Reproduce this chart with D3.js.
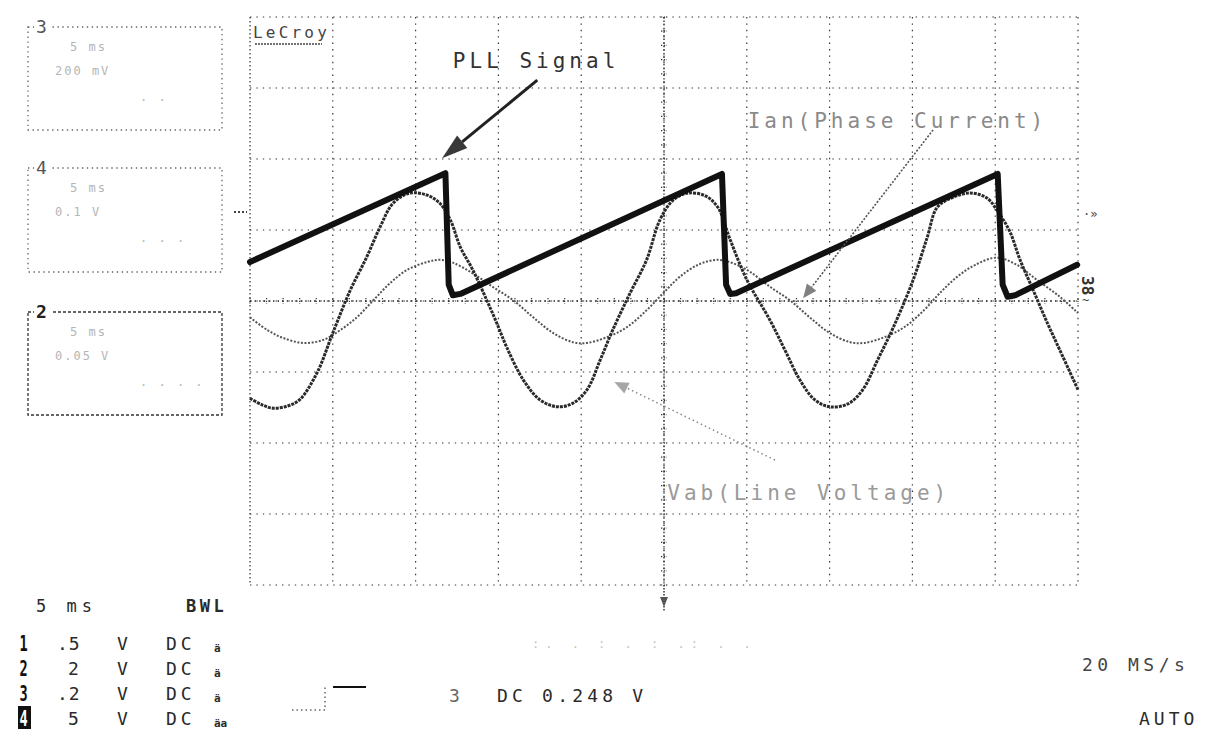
<!DOCTYPE html>
<html><head><meta charset="utf-8">
<script src="https://cdn.jsdelivr.net/npm/d3@7"></script>
<style>
html,body{margin:0;padding:0;background:#fff;}
svg{display:block;}
text{font-family:"DejaVu Sans Mono","Liberation Mono",monospace;}
</style></head><body>
<svg id="c" width="1207" height="732"></svg>
<script>
// ---- data (graticule divisions: time 0..10 div, amplitude -4..4 div) ----
const pllTime  = [0.00, 2.36, 2.40, 2.45, 2.54, 5.70, 5.75, 5.80, 5.87, 9.03, 9.09, 9.15, 9.24, 9.99];
const pllValue = [0.55, 1.80, 0.23, 0.08, 0.10, 1.79, 0.23, 0.10, 0.11, 1.79, 0.23, 0.06, 0.08, 0.51];

const vTime  = [0.00,0.14,0.28,0.45,0.60,0.81,1.00,1.21,1.41,1.57,1.73,1.93,2.14,2.29,2.42,2.54,2.69,2.86,2.98,3.10,3.30,3.50,3.71,3.90,4.07,4.23,4.38,4.59,4.79,4.95,5.11,5.29,5.50,5.65,5.80,6.00,6.28,6.46,6.64,6.82,7.00,7.22,7.40,7.58,7.77,8.01,8.18,8.30,8.49,8.70,8.90,9.06,9.18,9.30,9.46,9.63,9.78,10.00];
const vValue = [-1.37,-1.46,-1.51,-1.48,-1.39,-1.01,-0.45,0.15,0.62,1.04,1.38,1.52,1.49,1.38,1.14,0.76,0.44,0.01,-0.31,-0.65,-1.11,-1.39,-1.49,-1.44,-1.25,-0.83,-0.41,0.11,0.58,1.14,1.42,1.52,1.48,1.32,0.86,0.30,-0.27,-0.69,-1.11,-1.39,-1.49,-1.45,-1.25,-0.83,-0.37,0.30,0.90,1.32,1.46,1.52,1.45,1.21,0.97,0.58,0.15,-0.31,-0.69,-1.25];

const iTime  = [0.00,0.21,0.40,0.64,0.88,1.09,1.29,1.49,1.69,1.90,2.14,2.29,2.45,2.69,2.93,3.18,3.42,3.66,3.90,4.07,4.31,4.55,4.79,4.99,5.19,5.43,5.65,5.86,6.04,6.28,6.52,6.76,7.00,7.25,7.42,7.66,7.90,8.14,8.33,8.54,8.76,9.02,9.26,9.50,9.78,10.00];
const iValue = [-0.23,-0.41,-0.52,-0.59,-0.55,-0.41,-0.23,0.01,0.25,0.44,0.55,0.58,0.54,0.39,0.20,0.01,-0.23,-0.45,-0.58,-0.59,-0.51,-0.37,-0.13,0.11,0.34,0.52,0.58,0.52,0.41,0.20,0.01,-0.23,-0.45,-0.58,-0.59,-0.51,-0.37,-0.13,0.11,0.34,0.51,0.61,0.51,0.30,0.06,-0.17];

const labelText  = ["PLL Signal", "Ian(Phase Current)", "Vab(Line Voltage)"];
const labelAt    = [[2.45, 3.28], [6.01, 2.44], [5.04, -2.80]];
const arrowFrom  = [[3.47, 3.11], [8.25, 2.41], [6.34, -2.24]];
const arrowTo    = [[2.32, 2.01], [6.68, 0.04], [4.40, -1.14]];

const chanNum   = ["1", "2", "3", "4"];
const chanScale = [".5", "2", ".2", "5"];
const chanUnit  = ["V", "V", "V", "V"];
const chanCoup  = ["DC", "DC", "DC", "DC"];
const chanFlag  = ["ä", "ä", "ä", "äa"];

const boxLabel = ["3", "4", "2"];
const boxLines = [["5 ms", "200 mV", ". ."], ["5 ms", "0.1 V", ". . ."], ["5 ms", "0.05 V", ". . . ."]];

// ---- drawing ----
const svg = d3.select("#c");
const x = d3.scaleLinear().domain([0, 10]).range([250, 1078]);
const y = d3.scaleLinear().domain([-4, 4]).range([585, 17]);

const g = svg.append("g");
// grid
const gridStyle = {stroke: "#333", "stroke-width": 1.2, "stroke-dasharray": "1.4,5"};
x.ticks(10).forEach(t => {
  const l = g.append("line").attr("x1", x(t)).attr("x2", x(t)).attr("y1", y(4)).attr("y2", y(-4));
  Object.entries(gridStyle).forEach(([k, v]) => l.attr(k, v));
  if (t === 0) l.attr("stroke-dasharray", "1.4,2.6");
});
y.ticks(8).forEach(t => {
  const l = g.append("line").attr("y1", y(t)).attr("y2", y(t)).attr("x1", x(0)).attr("x2", x(10));
  Object.entries(gridStyle).forEach(([k, v]) => l.attr(k, v));
});
// center axes with minor ticks
g.append("line").attr("x1", x(5)).attr("x2", x(5)).attr("y1", y(4)).attr("y2", y(-4))
  .attr("stroke", "#222").attr("stroke-width", 1.3).attr("stroke-dasharray", "1.4,2.2");
g.append("line").attr("y1", y(0)).attr("y2", y(0)).attr("x1", x(0)).attr("x2", x(10))
  .attr("stroke", "#222").attr("stroke-width", 1.3).attr("stroke-dasharray", "1.4,3.2");
d3.range(0, 10.001, 0.2).forEach(t => {
  g.append("line").attr("x1", x(t)).attr("x2", x(t)).attr("y1", y(0) - 3).attr("y2", y(0) + 3)
    .attr("stroke", "#333").attr("stroke-width", 1.2).attr("stroke-dasharray", "1.3,1.5");
});
d3.range(-4, 4.001, 0.2).forEach(t => {
  g.append("line").attr("y1", y(t)).attr("y2", y(t)).attr("x1", x(5) - 3).attr("x2", x(5) + 3)
    .attr("stroke", "#333").attr("stroke-width", 1.2).attr("stroke-dasharray", "1.3,1.5");
});
// trigger position marker below center axis
g.append("line").attr("x1", x(5)).attr("x2", x(5)).attr("y1", y(-4)).attr("y2", y(-4) + 26)
  .attr("stroke", "#333").attr("stroke-width", 1.5).attr("stroke-dasharray", "1.5,1.5");
g.append("path").attr("d", `M${x(5)-4},${y(-4)+12} L${x(5)+4},${y(-4)+12} L${x(5)},${y(-4)+22} Z`)
  .attr("fill", "#555");

// side markers
svg.append("line").attr("x1", 234).attr("x2", 247).attr("y1", 212).attr("y2", 212)
  .attr("stroke", "#444").attr("stroke-width", 2).attr("stroke-dasharray", "2,2");
svg.append("text").attr("x", 1083).attr("y", 218).attr("font-size", 12).attr("fill", "#444").text("·»");
svg.append("text").attr("transform", "translate(1082,276) rotate(90)").attr("font-size", 16)
  .attr("font-weight", "bold").attr("fill", "#333").text("38");
svg.append("text").attr("x", 1082).attr("y", 304).attr("font-size", 12).attr("fill", "#444").text("~");

// LeCroy logo
svg.append("text").attr("x", 253).attr("y", 38).attr("font-size", 16).attr("letter-spacing", 3.2)
  .attr("fill", "#444").text("LeCroy");
svg.append("line").attr("x1", 255).attr("x2", 322).attr("y1", 44).attr("y2", 44)
  .attr("stroke", "#444").attr("stroke-width", 1.5).attr("stroke-dasharray", "2,1");

// traces
const lineLin = d3.line().x(d => x(d[0])).y(d => y(d[1]));
const lineSmooth = d3.line().x(d => x(d[0])).y(d => y(d[1])).curve(d3.curveCatmullRom.alpha(0.5));
const iPts = iTime.map((t, k) => [t, iValue[k]]);
const vPts = vTime.map((t, k) => [t, vValue[k]]);
const pPts = pllTime.map((t, k) => [t, pllValue[k]]);

svg.append("path").datum(iPts).attr("d", lineSmooth).attr("fill", "none")
  .attr("stroke", "#555").attr("stroke-width", 2).attr("stroke-dasharray", "2,1.6");
svg.append("path").datum(vPts).attr("d", lineSmooth).attr("fill", "none")
  .attr("stroke", "#2a2a2a").attr("stroke-width", 3).attr("stroke-dasharray", "3,1");
svg.append("path").datum(pPts).attr("d", lineLin).attr("fill", "none")
  .attr("stroke", "#111").attr("stroke-width", 6).attr("stroke-linejoin", "round").attr("stroke-linecap", "round");

// annotations
const labelFill = ["#333", "#8a8a8a", "#9a9a9a"];
labelText.forEach((s, k) => {
  svg.append("text").attr("x", x(labelAt[k][0])).attr("y", y(labelAt[k][1]))
    .attr("font-size", 21).attr("letter-spacing", 4).attr("fill", labelFill[k]).text(s);
});
const arrowStroke = ["#222", "#555", "#888"];
const arrowWidth = [3, 1.6, 1.5];
const arrowDash = ["none", "2,1.6", "1.5,3"];
const headLen = [26, 14, 14], headHalf = [8, 6, 6];
arrowFrom.forEach((f, k) => {
  const x1 = x(f[0]), y1 = y(f[1]), x2 = x(arrowTo[k][0]), y2 = y(arrowTo[k][1]);
  const a = Math.atan2(y2 - y1, x2 - x1);
  const bx = x2 - headLen[k] * Math.cos(a), by = y2 - headLen[k] * Math.sin(a);
  svg.append("line").attr("x1", x1).attr("y1", y1).attr("x2", bx).attr("y2", by)
    .attr("stroke", arrowStroke[k]).attr("stroke-width", arrowWidth[k]).attr("stroke-dasharray", arrowDash[k]);
  const px = -Math.sin(a) * headHalf[k], py = Math.cos(a) * headHalf[k];
  svg.append("path").attr("d", `M${x2},${y2} L${bx + px},${by + py} L${bx - px},${by - py} Z`)
    .attr("fill", arrowStroke[k]).attr("opacity", k === 0 ? 0.9 : 0.75);
});

// left channel boxes
const boxTop = [27, 168, 312], boxH = [103, 104, 103];
boxLabel.forEach((lab, k) => {
  svg.append("rect").attr("x", 28).attr("y", boxTop[k]).attr("width", 194).attr("height", boxH[k])
    .attr("fill", "none").attr("stroke", k === 2 ? "#333" : "#666").attr("stroke-width", 1.3)
    .attr("stroke-dasharray", k === 2 ? "3,2" : "1.4,3.5");
  svg.append("rect").attr("x", 34).attr("y", boxTop[k] - 10).attr("width", 18).attr("height", 18).attr("fill", "#fff");
  svg.append("text").attr("x", 36).attr("y", boxTop[k] + 6).attr("font-size", 18)
    .attr("font-weight", k === 2 ? "bold" : "normal").attr("fill", k === 2 ? "#222" : "#555").text(lab);
  const lx = [70, 55, 140], ly = [24, 48, 74];
  boxLines[k].forEach((s, j) => {
    svg.append("text").attr("x", lx[j]).attr("y", boxTop[k] + ly[j]).attr("font-size", 12)
      .attr("letter-spacing", 2).attr("fill", "#b5b5b5").text(s);
  });
});

// bottom status text
const bot = svg.append("g").attr("fill", "#2a2a2a");
bot.append("text").attr("x", 36).attr("y", 612).attr("font-size", 17).attr("letter-spacing", 5).text("5 ms");
bot.append("text").attr("x", 186).attr("y", 612).attr("font-size", 17).attr("letter-spacing", 3.5).attr("font-weight", "bold").text("BWL");
const rowBase = [650, 675, 700, 725];
chanNum.forEach((n, k) => {
  if (k === 3) bot.append("rect").attr("x", 18).attr("y", rowBase[k] - 19).attr("width", 13).attr("height", 23).attr("fill", "#111");
  bot.append("text").attr("transform", `translate(${19.5},${rowBase[k] + 1}) scale(0.8,1.2)`)
    .attr("font-size", 17).attr("font-weight", "bold").attr("fill", k === 3 ? "#fff" : "#111").text(n);
  bot.append("text").attr("x", chanScale[k].startsWith(".") ? 57 : 68).attr("y", rowBase[k]).attr("font-size", 18)
    .attr("letter-spacing", 1).text(chanScale[k]);
  bot.append("text").attr("x", 117).attr("y", rowBase[k]).attr("font-size", 18).text(chanUnit[k]);
  bot.append("text").attr("x", 166).attr("y", rowBase[k]).attr("font-size", 18).attr("letter-spacing", 4).text(chanCoup[k]);
  bot.append("text").attr("x", 214).attr("y", rowBase[k] + 2).attr("font-size", 11).attr("font-weight", "bold").text(chanFlag[k]);
});
// trigger symbol and level
svg.append("path").attr("d", "M292,710 L325,710 L325,687").attr("fill", "none")
  .attr("stroke", "#666").attr("stroke-width", 1.5).attr("stroke-dasharray", "1.5,3");
svg.append("line").attr("x1", 333).attr("x2", 366).attr("y1", 687).attr("y2", 687)
  .attr("stroke", "#111").attr("stroke-width", 2);
bot.append("text").attr("x", 449).attr("y", 702).attr("font-size", 18).attr("fill", "#666").text("3");
bot.append("text").attr("x", 497).attr("y", 702).attr("font-size", 18).attr("letter-spacing", 4.2).text("DC 0.248 V");
bot.append("text").attr("x", 1082).attr("y", 671).attr("font-size", 18).attr("letter-spacing", 4.5).attr("fill", "#444").text("20 MS/s");
bot.append("text").attr("x", 1139).attr("y", 725).attr("font-size", 18).attr("letter-spacing", 4).text("AUTO");
// faint readout remnants
svg.append("text").attr("x", 532).attr("y", 648).attr("font-size", 12).attr("letter-spacing", 6)
  .attr("fill", "#c4c4c4").text(":.   .  :  .   :     .:  .  .");
</script>
</body></html>
